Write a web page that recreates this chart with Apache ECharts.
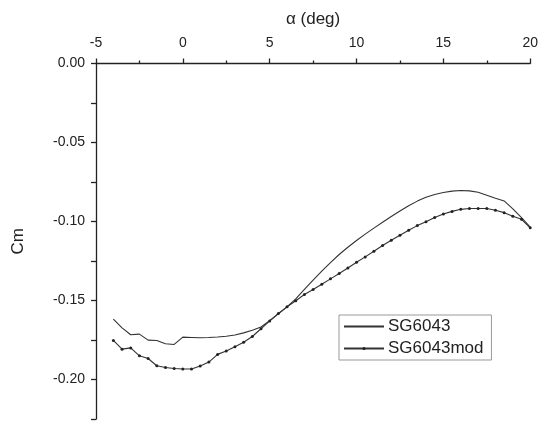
<!DOCTYPE html>
<html>
<head>
<meta charset="utf-8">
<script src="https://cdn.jsdelivr.net/npm/echarts@6/dist/echarts.min.js"></script>
<style>html,body{margin:0;padding:0;background:#fff;}#c{width:541px;height:421px;}</style>
</head>
<body>
<div id="c"></div>
<script>
const alpha = [-4,-3.5,-3,-2.5,-2,-1.5,-1,-0.5,0,0.5,1,1.5,2,2.5,3,3.5,4,4.5,5,5.5,6,6.5,7,7.5,8,8.5,9,9.5,10,10.5,11,11.5,12,12.5,13,13.5,14,14.5,15,15.5,16,16.5,17,17.5,18,18.5,19,19.5,20];
const sg6043 = [-0.1618,-0.1673,-0.1717,-0.1713,-0.1751,-0.1753,-0.1774,-0.1778,-0.1732,-0.1734,-0.1736,-0.1734,-0.1731,-0.1726,-0.1718,-0.1705,-0.1688,-0.1668,-0.1628,-0.1585,-0.1540,-0.1490,-0.1430,-0.1371,-0.1314,-0.1260,-0.1209,-0.1163,-0.1120,-0.1080,-0.1042,-0.1005,-0.0968,-0.0933,-0.0900,-0.0871,-0.0847,-0.0829,-0.0816,-0.0808,-0.0804,-0.0806,-0.0815,-0.0834,-0.0853,-0.0870,-0.0920,-0.0975,-0.1035];
const sg6043mod = [-0.1753,-0.1808,-0.1800,-0.1850,-0.1867,-0.1913,-0.1924,-0.1930,-0.1934,-0.1934,-0.1915,-0.1890,-0.1841,-0.1820,-0.1793,-0.1764,-0.1728,-0.1679,-0.1629,-0.1582,-0.1540,-0.1502,-0.1462,-0.1430,-0.1397,-0.1363,-0.1329,-0.1294,-0.1258,-0.1224,-0.1188,-0.1152,-0.1119,-0.1087,-0.1056,-0.1026,-0.1001,-0.0975,-0.0953,-0.0936,-0.0923,-0.0918,-0.0918,-0.0918,-0.0929,-0.0944,-0.0967,-0.0986,-0.1040];
const seriesNames = ['SG6043','SG6043mod'];

const chart = echarts.init(document.getElementById('c'), null, {renderer:'canvas'});
const font = 'Liberation Sans, Arial, sans-serif';
const ink = '#222';
chart.setOption({
  animation: false,
  backgroundColor: '#fff',
  textStyle: {fontFamily: font},
  grid: {left: 96, right: 8, top: 63.5, bottom: 2},
  xAxis: {
    type: 'value', position: 'top', min: -5, max: 20, interval: 5,
    name: 'α (deg)', nameLocation: 'middle', nameGap: 36,
    nameTextStyle: {fontSize: 17, color: ink, fontFamily: font},
    axisLine: {show: true, onZero: false, lineStyle: {color: ink, width: 1.3}},
    axisTick: {show: true, inside: false, length: 5, lineStyle: {color: ink, width: 1.3}},
    minorTick: {show: true, splitNumber: 2, length: 3, lineStyle: {color: ink, width: 1.3}},
    axisLabel: {fontSize: 14, color: ink, margin: 13, fontFamily: font},
    splitLine: {show: false}
  },
  yAxis: {
    type: 'value', min: -0.225, max: 0, interval: 0.025,
    name: 'Cm', nameLocation: 'middle', nameGap: 69, nameRotate: 90,
    nameTextStyle: {fontSize: 17, color: ink, fontFamily: font},
    axisLine: {show: true, onZero: false, lineStyle: {color: ink, width: 1.3}},
    axisTick: {show: true, inside: false, length: 5, lineStyle: {color: ink, width: 1.3}},
    axisLabel: {fontSize: 14, color: ink, margin: 11, fontFamily: font, showMinLabel: true, showMaxLabel: true,
      formatter: v => (Math.round(Math.abs(v) * 1000) % 50 === 0) ? v.toFixed(2) : ''},
    splitLine: {show: false}
  },
  legend: {
    orient: 'vertical', left: 339, top: 315,
    padding: [3, 8, 3, 4], itemGap: 5, itemWidth: 40, itemHeight: 4,
    borderColor: '#999', borderWidth: 1, backgroundColor: '#fff',
    textStyle: {fontSize: 17, lineHeight: 17, color: ink, fontFamily: font, padding: [0,0,0,-1]},
    data: [
      {name: seriesNames[0], itemStyle: {color: 'rgba(0,0,0,0)', borderWidth: 0}},
      {name: seriesNames[1]}
    ]
  },
  series: [
    {name: seriesNames[0], type: 'line', data: alpha.map((a,i)=>[a, sg6043[i]]),
     showSymbol: false, symbol: 'none', lineStyle: {color: '#333', width: 1.1}, itemStyle: {color: '#333'}},
    {name: seriesNames[1], type: 'line', data: alpha.map((a,i)=>[a, sg6043mod[i]]),
     symbol: 'circle', symbolSize: 3, showSymbol: true,
     lineStyle: {color: '#333', width: 1.1}, itemStyle: {color: '#222'}}
  ]
});
</script>
</body>
</html>
